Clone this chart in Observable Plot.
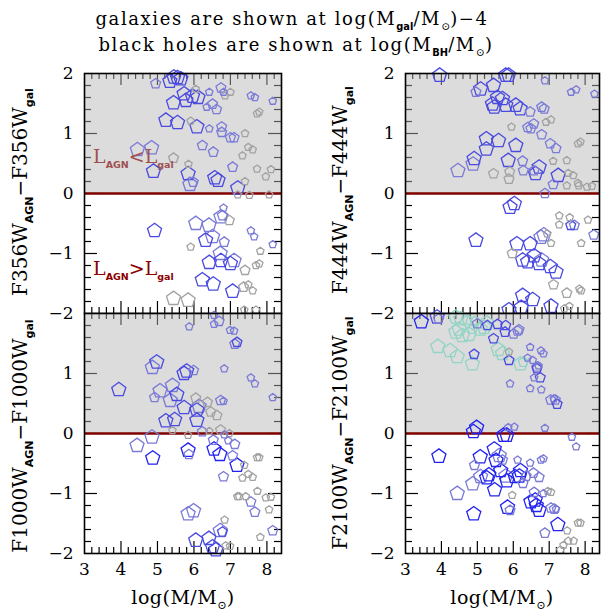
<!DOCTYPE html>
<html><head><meta charset="utf-8">
<script src="https://cdn.jsdelivr.net/npm/d3@7"></script>
<script src="https://cdn.jsdelivr.net/npm/@observablehq/plot@0.6"></script>
<style>
body{margin:0;background:#fff;}
#wrap{position:relative;width:604px;height:614px;overflow:hidden;}
#wrap svg{position:absolute;overflow:visible;}
</style></head><body><div id="wrap"></div>
<script>
// ---- data: [log M, colour difference, size class, colour class] ----
const f356 = [
[4.95,1.83,"M","L"],[5.34,1.87,"L","B"],[5.55,1.93,"L","B"],[5.45,1.94,"L","B"],[5.64,1.91,"L","B"],
[6.05,1.74,"S","G"],[6.42,1.69,"S","L"],[6.74,1.76,"M","L"],[6.81,1.69,"S","L"],[6.85,1.63,"S","G"],
[7.0,1.69,"S","G"],[7.56,1.63,"S","L"],[7.67,1.6,"S","L"],[8.16,1.54,"S","L"],[5.73,1.66,"L","B"],
[5.96,1.62,"L","B"],[6.11,1.6,"L","B"],[5.78,1.55,"L","B"],[5.44,1.51,"L","B"],[6.51,1.49,"M","L"],
[6.35,1.44,"S","L"],[6.62,1.4,"M","L"],[5.23,1.22,"L","B"],[5.55,1.18,"L","B"],[5.91,1.21,"S","G"],
[6.08,1.11,"L","B"],[6.42,1.08,"S","L"],[6.76,1.11,"M","L"],[6.76,1.02,"M","L"],[7.0,0.93,"M","L"],
[7.1,0.93,"M","L"],[7.4,1.0,"S","G"],[7.73,1.33,"S","G"],[7.79,1.36,"S","G"],[6.23,0.8,"M","L"],
[6.53,0.69,"M","L"],[7.49,0.77,"S","G"],[7.61,0.73,"S","G"],[7.33,0.63,"S","G"],[4.45,0.73,"L","L"],
[4.84,0.76,"L","L"],[4.89,0.37,"L","B"],[5.44,0.59,"M","G"],[5.85,0.49,"S","G"],[7.06,0.44,"M","L"],
[7.73,0.41,"S","G"],[8.11,0.4,"S","G"],[7.97,0.28,"S","G"],[5.84,0.33,"L","B"],[5.89,0.15,"L","L"],
[5.98,0.19,"M","L"],[6.57,0.26,"L","B"],[6.66,0.22,"L","B"],[7.4,0.2,"S","G"],[7.2,0.09,"L","B"],
[7.2,-0.02,"S","G"],[7.52,-0.03,"S","G"],[8.06,-0.02,"S","G"],
[6.81,-0.24,"S","L"],[6.74,-0.39,"L","L"],[6.78,-0.37,"M","L"],[6.97,-0.45,"M","G"],[6.05,-0.5,"L","L"],
[6.41,-0.53,"L","L"],[4.92,-0.62,"L","B"],[6.32,-0.78,"L","B"],[6.51,-0.72,"L","L"],[6.83,-0.81,"M","L"],
[5.91,-0.89,"S","G"],[7.56,-0.62,"S","L"],[7.65,-0.72,"S","L"],[8.16,-0.85,"S","L"],[7.82,-0.96,"S","G"],
[6.72,-1.0,"L","L"],[6.42,-1.15,"L","B"],[6.74,-1.12,"L","B"],[7.0,-1.17,"L","B"],[7.1,-1.12,"L","L"],
[7.4,-1.28,"M","G"],[7.7,-1.2,"S","G"],[7.79,-1.17,"S","G"],[6.23,-1.44,"L","B"],[6.53,-1.51,"L","B"],
[7.06,-1.63,"L","B"],[7.36,-1.56,"M","G"],[7.49,-1.52,"S","G"],[7.61,-1.62,"S","G"],[5.44,-1.75,"L","G"],
[5.84,-1.78,"L","G"],[7.38,-1.94,"S","G"],[7.7,-1.94,"S","G"]
];
const f444 = [
[3.95,1.97,"L","B"],[5.79,1.97,"L","B"],[5.87,1.97,"L","B"],[6.88,1.88,"S","L"],[4.96,1.69,"M","L"],
[5.09,1.74,"L","B"],[5.45,1.8,"L","B"],[5.56,1.6,"L","B"],[5.42,1.49,"L","B"],[5.7,1.58,"L","B"],
[5.79,1.47,"L","B"],[5.47,1.44,"L","B"],[6.07,1.47,"L","B"],[6.19,1.41,"L","B"],[6.47,1.36,"M","L"],
[6.79,1.44,"M","L"],[6.86,1.41,"M","L"],[7.61,1.69,"S","L"],[7.75,1.73,"S","L"],[8.26,1.66,"S","L"],
[5.95,1.11,"S","G"],[6.4,1.1,"M","L"],[6.57,1.16,"M","L"],[6.49,1.08,"M","L"],[6.79,0.98,"M","L"],
[6.91,1.19,"S","G"],[7.05,1.23,"S","G"],[7.03,0.83,"M","L"],[7.19,0.75,"M","L"],[7.8,0.83,"S","G"],
[7.87,0.86,"S","G"],[5.25,0.91,"L","B"],[5.59,0.88,"L","B"],[5.25,0.74,"L","B"],[6.07,0.8,"L","B"],
[4.91,0.58,"L","B"],[4.88,0.49,"L","L"],[4.46,0.38,"L","L"],[5.45,0.33,"M","G"],[5.86,0.55,"L","B"],
[5.9,0.36,"M","G"],[5.88,0.24,"M","G"],[6.26,0.54,"M","L"],[6.28,0.38,"M","L"],[6.58,0.38,"M","L"],
[6.72,0.44,"L","B"],[6.62,0.33,"L","B"],[7.11,0.54,"S","G"],[7.25,0.3,"L","B"],[7.11,0.15,"M","L"],
[7.49,0.55,"S","G"],[7.53,0.34,"S","G"],[7.67,0.3,"S","G"],[7.49,0.13,"S","G"],[7.8,0.17,"S","G"],
[7.82,0.13,"S","G"],[8.05,0.11,"S","G"],[8.19,0.12,"S","G"],[6.88,0.0,"M","L"],
[5.91,-0.23,"L","B"],[6.03,-0.17,"L","B"],[4.96,-0.78,"L","B"],[6.1,-0.84,"L","B"],[6.47,-0.84,"L","B"],
[6.77,-0.73,"L","L"],[6.85,-0.69,"L","L"],[6.94,-0.67,"S","G"],[7.05,-0.83,"S","G"],[7.28,-0.37,"S","G"],
[7.28,-0.52,"S","G"],[7.57,-0.4,"S","G"],[7.6,-0.53,"M","B"],[7.7,-0.53,"M","L"],[8.08,-0.44,"S","G"],
[7.89,-0.83,"S","G"],[8.24,-0.69,"M","L"],[5.97,-1.0,"M","G"],[6.26,-1.11,"L","B"],[6.4,-1.14,"L","B"],
[6.58,-1.04,"L","B"],[6.72,-1.17,"L","B"],[7.03,-1.22,"L","B"],[7.19,-1.31,"L","B"],[6.79,-1.11,"L","L"],
[7.12,-1.52,"M","G"],[7.49,-1.66,"M","G"],[7.84,-1.59,"S","G"],[7.89,-1.62,"S","G"],[6.26,-1.7,"L","B"],
[6.54,-1.77,"L","B"],[5.88,-1.94,"L","B"],[6.22,-1.9,"L","B"],[7.05,-1.88,"L","B"],[7.42,-1.92,"S","G"],
[7.56,-1.88,"S","G"]
];
const f1000 = [
[6.55,1.97,"S","L"],[6.69,1.87,"M","L"],[6.55,1.82,"S","L"],[5.87,1.78,"S","L"],[6.99,1.72,"S","L"],
[7.1,1.71,"S","L"],[7.18,1.52,"M","B"],[7.12,1.49,"M","L"],[4.98,1.19,"L","B"],[4.86,1.1,"L","L"],
[5.73,1.0,"L","B"],[5.8,1.04,"L","B"],[5.99,1.05,"M","L"],[6.83,1.08,"S","L"],[7.56,0.93,"S","L"],
[7.67,0.83,"S","L"],[8.16,0.6,"S","L"],[3.94,0.73,"L","B"],[5.07,0.71,"L","L"],[5.41,0.8,"L","L"],
[5.53,0.65,"L","B"],[5.35,0.55,"L","L"],[4.92,0.6,"M","L"],[6.05,0.59,"M","G"],[6.37,0.52,"M","G"],
[6.73,0.55,"M","L"],[6.81,0.54,"S","L"],[5.73,0.43,"L","B"],[6.08,0.39,"L","B"],[6.14,0.45,"L","L"],
[6.46,0.36,"M","G"],[6.63,0.3,"M","G"],[5.23,0.21,"L","B"],[5.47,0.23,"L","B"],[6.08,0.22,"L","B"],
[5.41,0.05,"S","G"],[5.84,-0.03,"S","G"],[6.23,0.03,"M","L"],[6.42,0.04,"S","G"],[6.73,0.06,"M","G"],
[6.97,0.0,"S","G"],[6.83,-0.02,"S","L"],
[4.85,-0.06,"L","L"],[4.44,-0.2,"L","L"],[4.87,-0.41,"L","D"],[5.84,-0.28,"L","D"],[5.86,-0.35,"M","L"],
[6.55,-0.26,"L","D"],[6.71,-0.35,"L","D"],[6.53,-0.11,"M","L"],[6.94,-0.12,"S","L"],[7.12,-0.18,"M","L"],
[7.06,-0.37,"M","L"],[7.18,-0.53,"L","D"],[7.38,-0.53,"S","G"],[6.81,-0.72,"M","L"],[7.33,-0.74,"S","G"],
[7.49,-0.68,"S","G"],[7.61,-0.73,"S","G"],[7.73,-0.4,"S","G"],[7.79,-0.4,"S","G"],[7.19,-1.05,"S","G"],
[7.24,-1.05,"S","G"],[7.42,-1.05,"S","G"],[7.56,-1.14,"M","L"],[7.67,-1.31,"M","L"],[7.74,-0.96,"S","G"],
[7.97,-1.07,"S","G"],[8.11,-1.06,"S","G"],[8.06,-1.27,"S","G"],[8.16,-1.62,"M","L"],[7.82,-1.73,"S","G"],
[5.84,-1.34,"L","L"],[5.99,-1.29,"L","L"],[6.84,-1.44,"S","G"],[6.72,-1.62,"L","L"],[6.78,-1.64,"M","B"],
[6.05,-1.78,"L","B"],[6.41,-1.75,"L","B"],[6.51,-1.89,"L","B"],[6.6,-1.94,"L","B"],[6.87,-1.87,"S","G"],
[6.99,-1.88,"S","G"]
];
const f2100 = [
[3.44,1.86,"L","D"],[3.88,1.94,"L","B"],[3.92,1.91,"M","L"],[4.4,1.94,"L","T"],[4.54,1.91,"L","T"],
[4.72,1.89,"M","T"],[4.93,1.87,"M","T"],[5.0,1.83,"M","L"],[5.26,1.84,"L","T"],[5.28,1.8,"M","B"],
[5.08,1.74,"L","T"],[5.19,1.77,"L","T"],[4.4,1.69,"L","T"],[4.58,1.63,"L","T"],[4.77,1.65,"L","T"],
[4.49,1.74,"L","T"],[4.86,1.74,"M","T"],[5.56,1.82,"M","B"],[5.79,1.8,"M","B"],[5.77,1.69,"M","B"],
[6.01,1.66,"M","L"],[6.12,1.71,"M","L"],[6.16,1.73,"M","L"],[5.45,1.58,"M","B"],[3.9,1.45,"L","T"],
[4.24,1.38,"L","T"],[4.44,1.28,"L","T"],[4.86,1.16,"L","T"],[4.91,1.32,"M","B"],[5.58,1.4,"L","T"],
[5.7,1.33,"L","T"],[5.88,1.22,"M","B"],[5.88,1.36,"S","G"],[6.2,1.16,"L","T"],[6.28,1.19,"M","T"],
[6.47,1.44,"S","L"],[6.77,1.38,"S","L"],[6.84,1.33,"S","L"],[6.4,1.26,"S","L"],[6.54,1.22,"S","L"],
[6.66,1.11,"M","L"],[6.7,1.13,"S","L"],[6.66,1.08,"M","B"],[6.58,0.93,"S","L"],[6.75,0.93,"M","B"],
[5.91,0.83,"S","L"],[6.47,0.75,"S","L"],[6.78,0.73,"S","L"],[7.04,0.56,"M","L"],[7.13,0.58,"S","L"],
[7.17,0.56,"M","L"],[7.22,0.49,"M","B"],[6.88,0.09,"S","L"],[4.98,0.1,"L","D"],[4.89,0.03,"L","D"],
[5.86,0.1,"S","L"],[6.03,0.11,"S","L"],[5.73,-0.03,"L","D"],[5.82,-0.03,"L","D"],[7.63,-0.06,"S","L"],
[7.75,-0.22,"S","L"],
[3.93,-0.38,"L","D"],[5.08,-0.39,"L","D"],[5.47,-0.26,"L","D"],[5.61,-0.37,"L","L"],[5.52,-0.45,"L","D"],
[5.7,-0.44,"M","L"],[4.92,-0.53,"M","L"],[5.09,-0.72,"L","L"],[5.26,-0.74,"L","D"],[5.32,-0.69,"L","D"],
[5.65,-0.62,"L","D"],[5.79,-0.71,"L","L"],[5.82,-0.79,"L","D"],[6.12,-0.44,"S","L"],[6.47,-0.49,"S","L"],
[6.77,-0.44,"S","L"],[6.84,-0.42,"S","L"],[6.2,-0.62,"L","D"],[6.17,-0.71,"L","D"],[6.05,-0.72,"L","D"],
[6.36,-0.71,"M","L"],[6.27,-0.83,"M","L"],[6.56,-0.66,"M","L"],[6.72,-0.73,"M","L"],[4.87,-0.84,"L","L"],
[4.44,-1.0,"L","L"],[5.48,-0.94,"L","D"],[5.97,-1.03,"S","G"],[6.58,-0.98,"M","L"],[6.84,-1.0,"S","L"],
[7.05,-0.98,"S","G"],[6.96,-0.96,"S","G"],[5.84,-1.23,"L","D"],[5.91,-1.28,"M","L"],[6.49,-1.14,"L","D"],
[6.61,-1.11,"L","D"],[6.64,-1.2,"L","D"],[6.72,-1.28,"L","D"],[7.05,-1.24,"M","L"],[7.14,-1.26,"M","L"],
[7.19,-1.26,"S","L"],[4.9,-1.34,"L","D"],[7.24,-1.52,"L","D"],[6.88,-1.66,"M","L"],[7.5,-1.62,"S","G"],
[7.8,-1.49,"S","G"],[7.87,-1.49,"S","G"],[7.53,-1.79,"S","G"],[7.68,-1.79,"S","G"],[7.4,-1.86,"S","G"],
[7.31,-1.94,"S","G"]
];
const filters = ["F356W", "F444W", "F1000W", "F2100W"];
const xMajorTicks = [3, 4, 5, 6, 7, 8];
const yTicksTop = [-2, -1, 0, 1, 2];
const yTicksBottom = [-2, -1, 0, 1];   // the "2" sits under the "−2" of the panel above

// ---- styles ----
const sizeR = {L: 7.4, M: 5.2, S: 3.9};
const colorOf = {D: "#2222f2", B: "#4a4ae0", L: "#7a7ad8", G: "#a2a2a2", T: "#92d4c5"};
const drawOrder = {G: 0, T: 1, L: 2, B: 3, D: 4};

const pentagon = {
  draw(context, size) {
    const r = Math.sqrt(size / Math.PI);
    for (let i = 0; i < 5; ++i) {
      const a = -Math.PI / 2 + i * 2 * Math.PI / 5;
      const px = r * Math.cos(a), py = r * Math.sin(a);
      if (i === 0) context.moveTo(px, py); else context.lineTo(px, py);
    }
    context.closePath();
  }
};

const xMinorTicks = [], yMinorTicks = [];
for (let k = 16; k <= 41; k++) if (k % 5) xMinorTicks.push(k / 5);
for (let k = -9; k <= 9; k++) if (k % 5) yMinorTicks.push(k / 5);
const yMajorInner = [-1, 0, 1];
const xMajorInner = [4, 5, 6, 7, 8];

const shade = [{y1: 0, y2: 2}];

const panels = [
  {data: f356,  left: 0,   top: 60,  w: 300, h: 260, ml: 84, mr: 19, mt: 13, mb: 7,  xaxis: false, yt: yTicksTop},
  {data: f444,  left: 320, top: 60,  w: 284, h: 260, ml: 85, mr: 5,  mt: 13, mb: 7,  xaxis: false, yt: yTicksTop},
  {data: f1000, left: 0,   top: 300, w: 300, h: 314, ml: 84, mr: 19, mt: 13, mb: 61, xaxis: true,  yt: yTicksBottom},
  {data: f2100, left: 320, top: 300, w: 284, h: 314, ml: 85, mr: 5,  mt: 13, mb: 61, xaxis: true,  yt: yTicksBottom}
];

const wrap = document.getElementById("wrap");
const fmt = d => (d < 0 ? "\u2212" : "") + Math.abs(d);

for (const p of panels) {
  const fw = p.w - p.ml - p.mr, fh = p.h - p.mt - p.mb;
  const rows = p.data.map(([x, y, s, c]) => ({x, y, r: sizeR[s], c: colorOf[c], o: drawOrder[c]}))
    .sort((a, b) => a.o - b.o);
  const tickCol = v => v > 0 ? "#555" : "#000";
  const marks = [
    Plot.rect(shade, {y1: "y1", y2: "y2", fill: "#dcdcdc"}),
    Plot.tickY(yMinorTicks, {y: d => d, insetRight: fw - 7, stroke: tickCol, strokeWidth: 1.2}),
    Plot.tickY(yMinorTicks, {y: d => d, insetLeft: fw - 7, stroke: tickCol, strokeWidth: 1.2}),
    Plot.tickY(yMajorInner, {y: d => d, insetRight: fw - 13, stroke: tickCol, strokeWidth: 1.2}),
    Plot.tickY(yMajorInner, {y: d => d, insetLeft: fw - 13, stroke: tickCol, strokeWidth: 1.2}),
    Plot.tickX(xMinorTicks, {x: d => d, insetTop: fh - 6, stroke: "#000", strokeWidth: 1.2}),
    Plot.tickX(xMinorTicks, {x: d => d, insetBottom: fh - 6, stroke: "#555", strokeWidth: 1.2}),
    Plot.tickX(xMajorInner, {x: d => d, insetTop: fh - 12, stroke: "#000", strokeWidth: 1.2}),
    Plot.tickX(xMajorInner, {x: d => d, insetBottom: fh - 12, stroke: "#555", strokeWidth: 1.2}),
    Plot.ruleY([0], {stroke: "#800000", strokeWidth: 2.5}),
    Plot.dot(rows, {x: "x", y: "y", r: "r", stroke: "c", symbol: pentagon, fill: "none", strokeWidth: 1.3}),
    Plot.frame({stroke: "#000", strokeWidth: 1.6}),
    Plot.axisY(p.yt, {anchor: "left", tickSize: 0, tickPadding: 11, tickFormat: fmt, label: null, fontSize: 17})
  ];
  if (p.xaxis) marks.push(Plot.axisX(xMajorTicks, {anchor: "bottom", tickSize: 0, tickPadding: 9, tickFormat: fmt, label: null, fontSize: 17}));
  const chart = Plot.plot({
    width: p.w, height: p.h,
    marginLeft: p.ml, marginRight: p.mr, marginTop: p.mt, marginBottom: p.mb,
    x: {domain: [3, 8.4], axis: null},
    y: {domain: [-2, 2], axis: null},
    r: {type: "identity"},
    style: {fontFamily: "DejaVu Serif", fontSize: "17px", background: "transparent", overflow: "visible", color: "#000"},
    marks
  });
  chart.style.left = p.left + "px";
  chart.style.top = p.top + "px";
  wrap.appendChild(chart);
}

// ---- text overlay ----
const svg = d3.select(wrap).append("svg")
  .attr("width", 604).attr("height", 614)
  .style("left", "0px").style("top", "0px")
  .style("pointer-events", "none")
  .attr("font-family", "DejaVu Serif");

function label(x, y, parts, {size = 18, anchor = "middle", rotate = false, fill = "#000", spacing = 0, subScale = 0.55} = {}) {
  const t = svg.append("text").attr("x", x).attr("y", y)
    .attr("text-anchor", anchor).attr("font-size", size).attr("fill", fill)
    .attr("letter-spacing", spacing);
  if (rotate) t.attr("transform", `rotate(-90 ${x} ${y})`);
  let shift = 0;
  for (const [s, kind] of parts) {
    const ts = t.append("tspan").text(s);
    let target = 0;
    if (kind === "sub") {
      target = size * 0.28;
      ts.attr("font-family", "DejaVu Sans").attr("font-weight", "bold").attr("font-size", size * subScale).attr("letter-spacing", 0);
    } else if (kind === "sun") {
      target = size * 0.25;
      ts.attr("font-size", size * 0.6).attr("letter-spacing", 0);
    }
    ts.attr("dy", target - shift);
    shift = target;
  }
}

label(292, 25, [["galaxies are shown at log(M"], ["gal", "sub"], ["/M"], ["\u2299", "sun"], [")\u22124"]], {size: 18, spacing: 1.6});
label(296, 51, [["black holes are shown at log(M"], ["BH", "sub"], ["/M"], ["\u2299", "sun"], [")"]], {size: 18, spacing: 1.6});

label(183, 604, [["log(M/M"], ["\u2299", "sun"], [")"]], {size: 19, spacing: 0.5});
label(502, 604, [["log(M/M"], ["\u2299", "sun"], [")"]], {size: 19, spacing: 0.5});

const yl = [[27, 192], [347, 190], [27, 436], [347, 433]];
filters.forEach((f, i) => {
  label(yl[i][0], yl[i][1], [[f], ["AGN", "sub"], ["\u2212" + f], ["gal", "sub"]], {size: 20, rotate: true});
});

label(93, 163, [["L"], ["AGN", "sub"], ["<L"], ["gal", "sub"]], {size: 19, anchor: "start", fill: "#a05050", subScale: 0.5});
label(93, 275, [["L"], ["AGN", "sub"], [">L"], ["gal", "sub"]], {size: 19, anchor: "start", fill: "#8b0000", subScale: 0.5});
</script></body></html>
